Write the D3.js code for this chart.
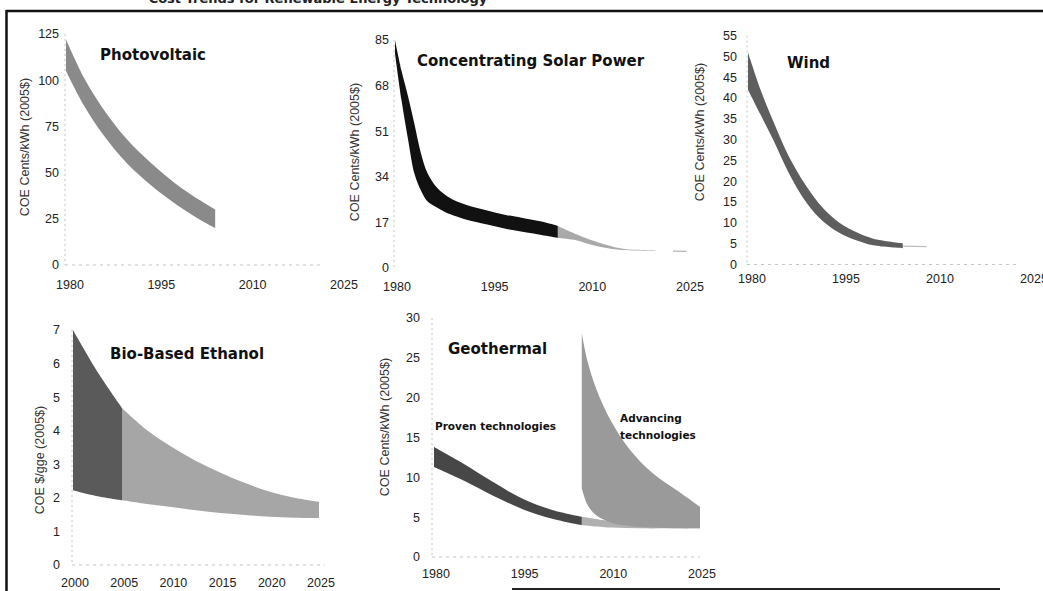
<!DOCTYPE html>
<html>
<head>
<meta charset="utf-8">
<script src="https://cdn.jsdelivr.net/npm/d3@7"></script>
<style>
  html, body { margin: 0; padding: 0; background: #fff; }
  svg { display: block; }
  .tick-label { font-family: "Liberation Sans", Arial, sans-serif; font-size: 12.5px; fill: #222; }
  .ytitle { font-family: "Liberation Sans", Arial, sans-serif; font-size: 12.5px; fill: #333; }
  .ptitle { font-family: "DejaVu Sans", Verdana, sans-serif; font-weight: bold; font-size: 15px; fill: #111; }
  .note { font-family: "DejaVu Sans", Verdana, sans-serif; font-weight: bold; font-size: 10.5px; fill: #111; }
</style>
</head>
<body>
<svg id="chart" width="1043" height="591"></svg>
<script>
// ---------------- DATA ----------------
const yearTicks = [1980, 1995, 2010, 2025];
const ethanolYearTicks = [2000, 2005, 2010, 2015, 2020, 2025];

// Photovoltaic (cents/kWh)
const pvTicks = [0, 25, 50, 75, 100, 125];
const pvYears = [1980, 1983, 1986, 1990, 1994, 1998, 2002, 2004.5];
const pvHigh  = [122, 101, 85, 68, 55, 44, 35, 30];
const pvLow   = [105, 86, 71, 55, 43, 33, 24.5, 20];

// Concentrating Solar Power (cents/kWh)
const cspTicks = [0, 17, 34, 51, 68, 85];
const cspYears = [1980, 1981, 1982, 1983, 1984, 1985, 1986.5, 1988.5, 1991, 1994, 1997, 2000, 2002.5, 2005];
const cspHigh  = [85, 73.5, 64, 53.5, 42.6, 35.3, 29.8, 26, 23.5, 21.5, 19.8, 18.5, 17.3, 15.7];
const cspLow   = [80, 62.5, 48, 35, 28.8, 24.8, 22.5, 20, 18, 16.3, 14.6, 13.3, 12.3, 11.2];
const cspProjYears = [2005, 2007.5, 2010, 2012.5, 2015, 2017, 2020];
const cspProjHigh  = [15.7, 13, 10.5, 8.6, 7.2, 6.8, 6.6];
const cspProjLow   = [11.2, 10.5, 8.8, 7.5, 6.7, 6.5, 6.4];
const cspTailYears = [2022.7, 2024.8];
const cspTailValue = [6.3, 6.2];

// Wind (cents/kWh)
const windTicks = [0, 5, 10, 15, 20, 25, 30, 35, 40, 45, 50, 55];
const windYears = [1980, 1982, 1984, 1986.5, 1989.4, 1992, 1994.7, 1997.5, 2000, 2004.7];
const windHigh  = [50.9, 42, 34.5, 26, 18.6, 13.5, 9.9, 7.6, 6.2, 5.1];
const windLow   = [42, 36, 30, 22, 14.7, 10.3, 7.5, 5.7, 4.6, 3.9];
const windTailYears = [2004.7, 2008.5];
const windTailValue = [4.4, 4.3];

// Bio-Based Ethanol ($/gge)
const ethTicks = [0, 1, 2, 3, 4, 5, 6, 7];
const ethYears = [2000, 2002.5, 2005];
const ethHigh  = [7.0, 5.75, 4.67];
const ethLow   = [2.23, 2.05, 1.93];
const ethProjYears = [2005, 2007.5, 2010, 2012.5, 2015, 2017.5, 2020, 2022.5, 2025];
const ethProjHigh  = [4.67, 4.02, 3.52, 3.1, 2.75, 2.44, 2.18, 2.0, 1.88];
const ethProjLow   = [1.93, 1.82, 1.73, 1.63, 1.55, 1.49, 1.44, 1.41, 1.4];

// Geothermal (cents/kWh)
const geoTicks = [0, 5, 10, 15, 20, 25, 30];
const geoYears = [1980, 1985, 1990, 1995, 2000, 2005];
const geoHigh  = [13.8, 11.7, 9.4, 7.3, 5.9, 5.05];
const geoLow   = [11.3, 9.6, 7.7, 6.0, 4.8, 4.0];
const geoProvProjYears = [2005, 2010, 2015, 2020, 2025];
const geoProvProjHigh  = [5.05, 4.5, 4.3, 4.2, 4.2];
const geoProvProjLow   = [4.0, 3.7, 3.6, 3.6, 3.6];
const geoAdvYears = [2005, 2006, 2007.5, 2010, 2013, 2017, 2021, 2025];
const geoAdvHigh  = [28.1, 24.5, 21, 17, 13.6, 10.5, 8.4, 6.3];
const geoAdvLow   = [8.6, 6.5, 5.2, 4.3, 3.9, 3.7, 3.6, 3.6];

// ---------------- DRAW ----------------
const svg = d3.select("#chart");

// page remnants: title cut at the top edge, frame lines
svg.append("text")
  .attr("x", 318).attr("y", 3)
  .attr("text-anchor", "middle")
  .style("font-family", "'DejaVu Sans', Verdana, sans-serif")
  .style("font-weight", "bold").style("font-size", "13px").style("fill", "#222")
  .text("Cost Trends for Renewable Energy Technology");
svg.append("line").attr("x1", 6).attr("x2", 1043).attr("y1", 11).attr("y2", 11)
  .attr("stroke", "#111").attr("stroke-width", 2.5);
svg.append("line").attr("x1", 6.5).attr("x2", 6.5).attr("y1", 10).attr("y2", 591)
  .attr("stroke", "#111").attr("stroke-width", 2.5);
svg.append("line").attr("x1", 512).attr("x2", 1000).attr("y1", 589).attr("y2", 589)
  .attr("stroke", "#222").attr("stroke-width", 2);

function bandArea(x, y) {
  return d3.area()
    .x(d => x(d.t)).y0(d => y(d.lo)).y1(d => y(d.hi))
    .curve(d3.curveCatmullRom.alpha(0.5));
}
function zip(ts, hi, lo) { return ts.map((t, i) => ({ t, hi: hi[i], lo: lo[i] })); }

function panel(cfg) {
  const g = svg.append("g");
  const x = d3.scaleLinear().domain(cfg.xDomain).range(cfg.xRange);
  const y = d3.scaleLinear().domain(cfg.yDomain).range(cfg.yRange);

  // faint dotted axes
  g.append("line").attr("x1", cfg.axisX).attr("x2", cfg.axisX)
    .attr("y1", y(cfg.yDomain[1])).attr("y2", y(0))
    .attr("stroke", "#c4c4c4").attr("stroke-width", 1).attr("stroke-dasharray", "2,3");
  g.append("line").attr("x1", cfg.axisX).attr("x2", cfg.xAxisEnd)
    .attr("y1", y(0)).attr("y2", y(0))
    .attr("stroke", "#c4c4c4").attr("stroke-width", 1).attr("stroke-dasharray", "3,4");

  // y tick labels
  g.selectAll(".yt").data(cfg.yTicks).enter().append("text")
    .attr("class", "tick-label")
    .attr("x", cfg.axisX - cfg.yLabelGap).attr("y", d => y(d))
    .attr("dy", "0.35em").attr("text-anchor", "end")
    .text(d => d);
  // x tick labels
  g.selectAll(".xt").data(cfg.xTicks).enter().append("text")
    .attr("class", "tick-label")
    .attr("x", d => x(d) + (cfg.xLabelShift || 0)).attr("y", cfg.xLabelY)
    .attr("text-anchor", "middle")
    .text(d => d);

  // y title
  g.append("text").attr("class", "ytitle")
    .attr("transform", `translate(${cfg.yTitleX},${cfg.yTitleY}) rotate(-90)`)
    .attr("text-anchor", "middle").attr("dominant-baseline", "central")
    .text(cfg.yTitle);

  // bands
  cfg.bands.forEach(b => {
    g.append("path").datum(b.data)
      .attr("d", bandArea(x, y))
      .attr("fill", b.color);
  });
  (cfg.lines || []).forEach(l => {
    g.append("path").datum(l.data)
      .attr("d", d3.line().x(d => x(d.t)).y(d => y(d.v)))
      .attr("stroke", l.color).attr("stroke-width", l.width).attr("fill", "none");
  });

  // panel title
  g.append("text").attr("class", "ptitle")
    .attr("x", cfg.titleX).attr("y", cfg.titleY).text(cfg.title);
  return { g, x, y };
}

// Photovoltaic
panel({
  xDomain: [1980, 2025], xRange: [66, 340], yDomain: [0, 125], yRange: [265, 34],
  axisX: 65, xAxisEnd: 322, yLabelGap: 6, xTicks: yearTicks, yTicks: pvTicks, xLabelY: 289, xLabelShift: 4,
  yTitle: "COE Cents/kWh (2005$)", yTitleX: 25, yTitleY: 147,
  bands: [{ data: zip(pvYears, pvHigh, pvLow), color: "#8a8a8a" }],
  title: "Photovoltaic", titleX: 100, titleY: 60
});

// Concentrating Solar Power
panel({
  xDomain: [1980, 2025], xRange: [395, 688], yDomain: [0, 85], yRange: [268, 40],
  axisX: 394, xAxisEnd: 394, yLabelGap: 5, xTicks: yearTicks, yTicks: cspTicks, xLabelY: 291, xLabelShift: 2,
  yTitle: "COE Cents/kWh (2005$)", yTitleX: 355, yTitleY: 152,
  bands: [
    { data: zip(cspProjYears, cspProjHigh, cspProjLow), color: "#a9a9a9" },
    { data: zip(cspYears, cspHigh, cspLow), color: "#111111" }
  ],
  lines: [{ data: cspTailYears.map((t, i) => ({ t, v: cspTailValue[i] })), color: "#b5b5b5", width: 1.2 }],
  title: "Concentrating Solar Power", titleX: 417, titleY: 66
});

// Wind
panel({
  xDomain: [1980, 2025], xRange: [748, 1030], yDomain: [0, 55], yRange: [264.5, 35.5],
  axisX: 747, xAxisEnd: 1020, yLabelGap: 10, xTicks: yearTicks, yTicks: windTicks, xLabelY: 283, xLabelShift: 4,
  yTitle: "COE Cents/kWh (2005$)", yTitleX: 700, yTitleY: 132,
  bands: [{ data: zip(windYears, windHigh, windLow), color: "#5e5e5e" }],
  lines: [{ data: windTailYears.map((t, i) => ({ t, v: windTailValue[i] })), color: "#bdbdbd", width: 1.3 }],
  title: "Wind", titleX: 787, titleY: 68
});

// Bio-Based Ethanol
panel({
  xDomain: [2000, 2025], xRange: [73, 319], yDomain: [0, 7], yRange: [565, 330],
  axisX: 72, xAxisEnd: 325, yLabelGap: 12, xTicks: ethanolYearTicks, yTicks: ethTicks, xLabelY: 587, xLabelShift: 2,
  yTitle: "COE $/gge (2005$)", yTitleX: 40, yTitleY: 460,
  bands: [
    { data: zip(ethProjYears, ethProjHigh, ethProjLow), color: "#a6a6a6" },
    { data: zip(ethYears, ethHigh, ethLow), color: "#5a5a5a" }
  ],
  title: "Bio-Based Ethanol", titleX: 110, titleY: 359
});

// Geothermal
const geo = panel({
  xDomain: [1980, 2025], xRange: [434, 700], yDomain: [0, 30], yRange: [557, 318],
  axisX: 432, xAxisEnd: 700, yLabelGap: 12, xTicks: yearTicks, yTicks: geoTicks, xLabelY: 578, xLabelShift: 2,
  yTitle: "COE Cents/kWh (2005$)", yTitleX: 385, yTitleY: 427,
  bands: [
    { data: zip(geoProvProjYears, geoProvProjHigh, geoProvProjLow), color: "#b0b0b0" },
    { data: zip(geoAdvYears, geoAdvHigh, geoAdvLow), color: "#9a9a9a" },
    { data: zip(geoYears, geoHigh, geoLow), color: "#474747" }
  ],
  title: "Geothermal", titleX: 448, titleY: 354
});
geo.g.append("text").attr("class", "note").attr("x", 435).attr("y", 430).text("Proven technologies");
geo.g.append("text").attr("class", "note").attr("x", 620).attr("y", 422).text("Advancing");
geo.g.append("text").attr("class", "note").attr("x", 620).attr("y", 439).text("technologies");
</script>
</body>
</html>
